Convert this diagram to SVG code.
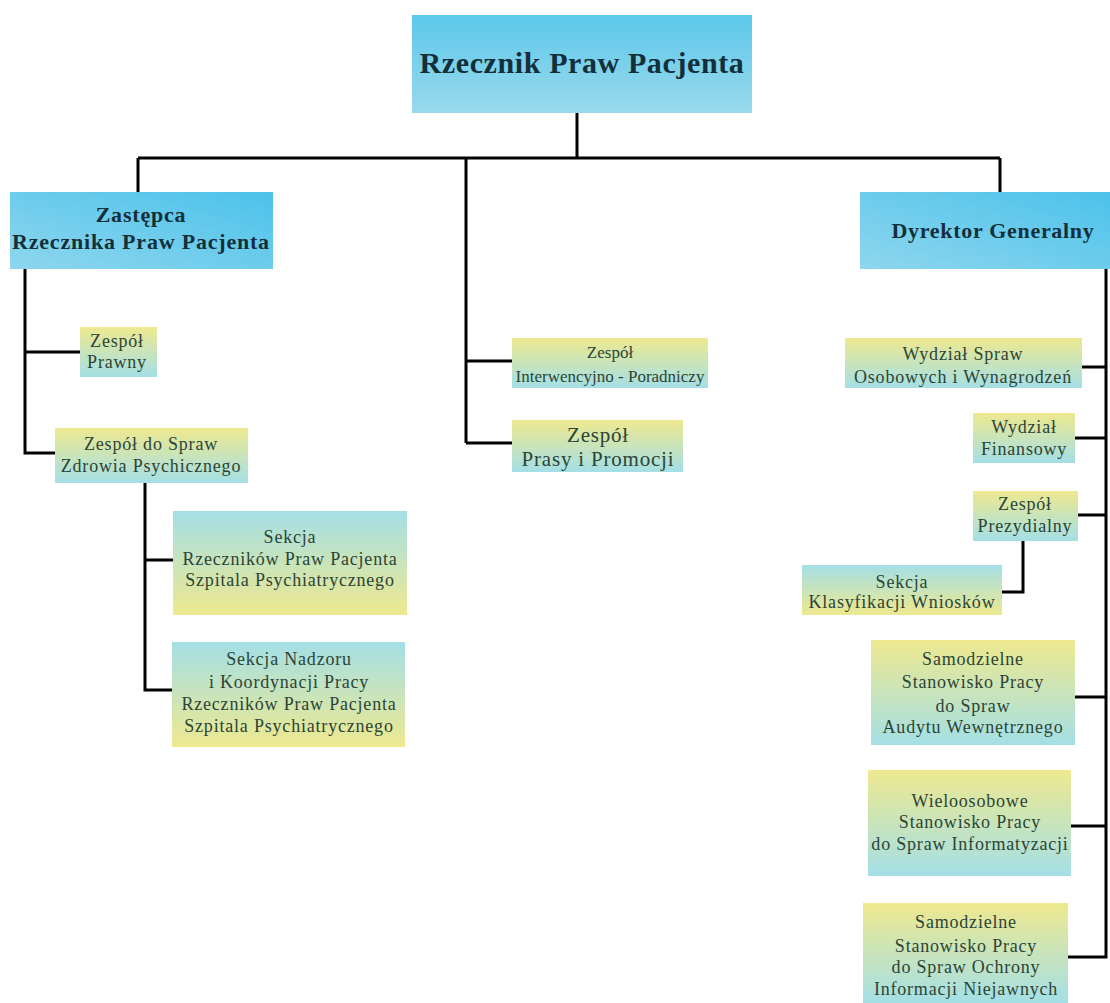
<svg xmlns="http://www.w3.org/2000/svg" width="1110" height="1003" viewBox="0 0 1110 1003">
<defs>
<linearGradient id="gTop" x1="0" y1="0" x2="0" y2="1"><stop offset="0" stop-color="#5cc8ea"/><stop offset="1" stop-color="#9ad9ec"/></linearGradient>
<linearGradient id="gSide" x1="0" y1="1" x2="1" y2="0"><stop offset="0" stop-color="#8ed6ee"/><stop offset="1" stop-color="#4cc2ea"/></linearGradient>
<linearGradient id="gYC" x1="0" y1="0" x2="0" y2="1"><stop offset="0" stop-color="#eee98f"/><stop offset="1" stop-color="#a4dfe6"/></linearGradient>
<linearGradient id="gCY" x1="0" y1="0" x2="0" y2="1"><stop offset="0" stop-color="#a4dfe6"/><stop offset="1" stop-color="#eee98f"/></linearGradient>
</defs>
<style>
.head{font-family:'Liberation Serif','DejaVu Serif',serif;font-weight:bold;fill:#13303a;text-anchor:middle}
.t{font-family:'Liberation Serif','DejaVu Serif',serif;font-size:18px;letter-spacing:0.8px;fill:#2c4436;text-anchor:middle}
.t.iw{font-size:17px;letter-spacing:0px}
.t.pr{font-size:21px;letter-spacing:0.8px}
.ln{stroke:#000;stroke-width:3;fill:none}
</style>
<rect width="1110" height="1003" fill="#fff"/>
<g id="connectors">
<path class="ln" d="M577 113V158M138 158H1000M138 158V192M466 158V443M1000 158V192"/>
<path class="ln" d="M25 269V453H55M25 352H80"/>
<path class="ln" d="M145 483V690H172M145 560H173"/>
<path class="ln" d="M466 361H512M466 443H512"/>
<path class="ln" d="M1106 269V957H1068M1106 367H1082M1106 438H1075M1106 515H1078M1106 697H1075M1106 826H1071"/>
<path class="ln" d="M1023 541V592H1002"/>
</g>
<g id="n-rpp"><rect x="412" y="15" width="340" height="98" fill="url(#gTop)"/><text class="head" x="582" y="73" font-size="30" letter-spacing="0.6">Rzecznik Praw Pacjenta</text></g>
<g id="n-zastepca"><rect x="10" y="192" width="263" height="77" fill="url(#gSide)"/><text class="head" x="141" y="222" font-size="22" letter-spacing="0.8">Zastępca</text><text class="head" x="141" y="249" font-size="22" letter-spacing="0.8">Rzecznika Praw Pacjenta</text></g>
<g id="n-dyrektor"><rect x="860" y="192" width="250" height="77" fill="url(#gSide)"/><text class="head" x="993" y="238" font-size="22" letter-spacing="0.7">Dyrektor Generalny</text></g>
<g id="n-prawny"><rect x="80" y="327" width="77" height="50" fill="url(#gYC)"/><text class="t" x="117" y="347">Zespół</text><text class="t" x="117" y="368">Prawny</text></g>
<g id="n-zdrowia"><rect x="55" y="428" width="193" height="55" fill="url(#gYC)"/><text class="t" x="151" y="450">Zespół do Spraw</text><text class="t" x="151" y="472">Zdrowia Psychicznego</text></g>
<g id="n-sekcja1"><rect x="173" y="511" width="234" height="104" fill="url(#gCY)"/><text class="t" x="290" y="543">Sekcja</text><text class="t" x="290" y="565">Rzeczników Praw Pacjenta</text><text class="t" x="290" y="586">Szpitala Psychiatrycznego</text></g>
<g id="n-sekcja2"><rect x="172" y="642" width="233" height="105" fill="url(#gCY)"/><text class="t" x="289" y="665">Sekcja Nadzoru</text><text class="t" x="289" y="688">i Koordynacji Pracy</text><text class="t" x="289" y="710">Rzeczników Praw Pacjenta</text><text class="t" x="289" y="732">Szpitala Psychiatrycznego</text></g>
<g id="n-interwencyjno"><rect x="512" y="338" width="196" height="50" fill="url(#gYC)"/><text class="t iw" x="610" y="358">Zespół</text><text class="t iw" x="610" y="382">Interwencyjno - Poradniczy</text></g>
<g id="n-prasy"><rect x="512" y="420" width="171" height="52" fill="url(#gYC)"/><text class="t pr" x="598" y="442">Zespół</text><text class="t pr" x="598" y="466">Prasy i Promocji</text></g>
<g id="n-osobowych"><rect x="845" y="338" width="237" height="50" fill="url(#gYC)"/><text class="t" x="963" y="360">Wydział Spraw</text><text class="t" x="963" y="383">Osobowych i Wynagrodzeń</text></g>
<g id="n-finansowy"><rect x="973" y="413" width="102" height="50" fill="url(#gYC)"/><text class="t" x="1024" y="433">Wydział</text><text class="t" x="1024" y="455">Finansowy</text></g>
<g id="n-prezydialny"><rect x="973" y="491" width="105" height="50" fill="url(#gYC)"/><text class="t" x="1025" y="510">Zespół</text><text class="t" x="1025" y="532">Prezydialny</text></g>
<g id="n-klasyfikacji"><rect x="802" y="565" width="200" height="50" fill="url(#gCY)"/><text class="t" x="902" y="588">Sekcja</text><text class="t" x="902" y="608">Klasyfikacji Wniosków</text></g>
<g id="n-audytu"><rect x="871" y="640" width="204" height="105" fill="url(#gYC)"/><text class="t" x="973" y="665">Samodzielne</text><text class="t" x="973" y="688">Stanowisko Pracy</text><text class="t" x="973" y="712">do Spraw</text><text class="t" x="973" y="733">Audytu Wewnętrznego</text></g>
<g id="n-informatyzacji"><rect x="868" y="770" width="203" height="106" fill="url(#gYC)"/><text class="t" x="970" y="807">Wieloosobowe</text><text class="t" x="970" y="828">Stanowisko Pracy</text><text class="t" x="970" y="850">do Spraw Informatyzacji</text></g>
<g id="n-ochrony"><rect x="863" y="903" width="205" height="100" fill="url(#gYC)"/><text class="t" x="966" y="928">Samodzielne</text><text class="t" x="966" y="952">Stanowisko Pracy</text><text class="t" x="966" y="973">do Spraw Ochrony</text><text class="t" x="966" y="995">Informacji Niejawnych</text></g>
</svg>
